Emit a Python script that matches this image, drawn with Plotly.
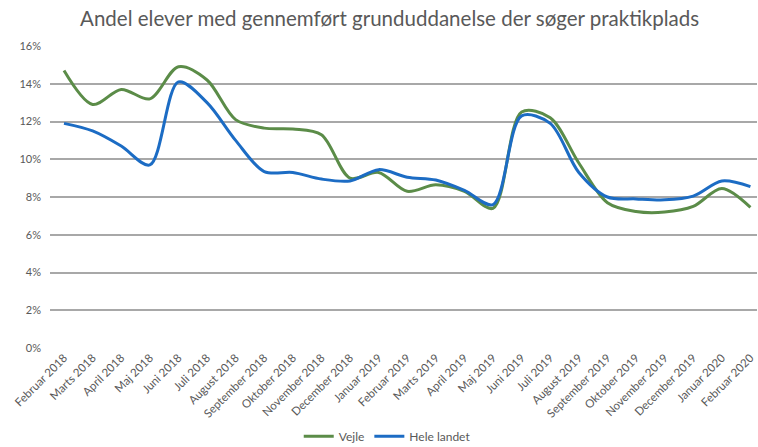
import plotly.graph_objects as go

months = ["Februar 2018", "Marts 2018", "April 2018", "Maj 2018", "Juni 2018", "Juli 2018",
          "August 2018", "September 2018", "Oktober 2018", "November 2018", "December 2018",
          "Januar 2019", "Februar 2019", "Marts 2019", "April 2019", "Maj 2019", "Juni 2019",
          "Juli 2019", "August 2019", "September 2019", "Oktober 2019", "November 2019",
          "December 2019", "Januar 2020", "Februar 2020"]

vejle = [14.7, 12.9, 13.7, 13.2, 14.9, 14.2, 12.1, 11.65, 11.6, 11.3, 9.0, 9.3, 8.3, 8.65,
         8.3, 7.4, 12.5, 12.2, 9.8, 7.7, 7.23, 7.2, 7.5, 8.45, 7.45]
hele_landet = [11.9, 11.5, 10.7, 9.7, 14.1, 13.0, 11.0, 9.35, 9.3, 8.95, 8.85, 9.45, 9.05, 8.9,
               8.35, 7.6, 12.3, 11.9, 9.3, 8.0, 7.9, 7.85, 8.05, 8.85, 8.55]

y_ticks = [0, 2, 4, 6, 8, 10, 12, 14, 16]
y_tick_labels = ["0%", "2%", "4%", "6%", "8%", "10%", "12%", "14%", "16%"]

font_fam = "Lato, Open Sans, sans-serif"
grey = "#595959"

fig = go.Figure()
fig.add_trace(go.Scatter(x=months, y=vejle, name="Vejle", mode="lines",
                         line=dict(color="#5b8c48", width=3, shape="spline", smoothing=0.9)))
fig.add_trace(go.Scatter(x=months, y=hele_landet, name="Hele landet", mode="lines",
                         line=dict(color="#1c6cc4", width=3, shape="spline", smoothing=0.9)))

fig.update_layout(
    width=758, height=447,
    margin=dict(l=50, r=1, t=46, b=99, autoexpand=False),
    paper_bgcolor="white", plot_bgcolor="white",
    title=dict(text="Andel elever med gennemført grunduddanelse der søger praktikplads",
               x=0.514, xanchor="center", y=0.958, yanchor="middle",
               font=dict(family=font_fam, size=20.5, color=grey)),
    xaxis=dict(type="category", range=[-0.49, 24.23], tickangle=-45, showgrid=False,
               showline=False, ticks="", automargin=False,
               tickfont=dict(family=font_fam, size=11.5, color=grey)),
    yaxis=dict(range=[0, 16.0], tickvals=y_ticks, ticktext=y_tick_labels, showgrid=True,
               gridcolor="#a8a8a8", gridwidth=1.5, zeroline=False, ticks="",
               ticklabelstandoff=8, automargin=False,
               tickfont=dict(family=font_fam, size=11, color=grey)),
    legend=dict(orientation="h", x=0.477, xanchor="center", yref="container", y=0.024,
                yanchor="middle", font=dict(family=font_fam, size=12, color=grey)),
    showlegend=True,
)

fig.write_html("out.html", config={"displayModeBar": False},
               post_script="document.body.style.margin='0';document.body.style.overflow='hidden';")
